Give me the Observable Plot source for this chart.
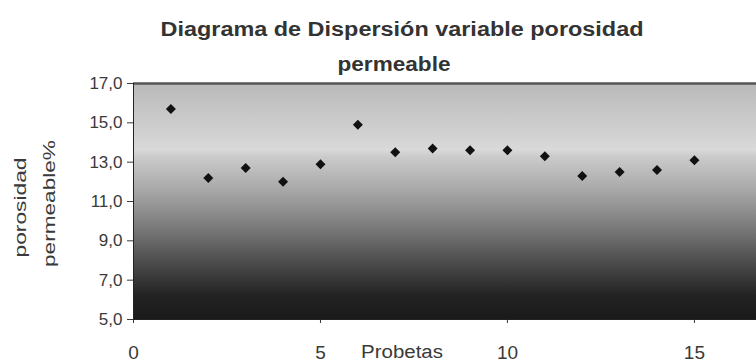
<!DOCTYPE html>
<html><head><meta charset="utf-8">
<script src="https://cdn.jsdelivr.net/npm/d3@7"></script>
<script src="https://cdn.jsdelivr.net/npm/@observablehq/plot@0.6"></script>
<style>body{margin:0;background:#fff;} svg{display:block}</style>
</head><body><div id="chart"></div>
<script>
const probetas = [1, 2, 3, 4, 5, 6, 7, 8, 9, 10, 11, 12, 13, 14, 15];
const porosidad = [15.7, 12.2, 12.7, 12.0, 12.9, 14.9, 13.5, 13.7, 13.6, 13.6, 13.3, 12.3, 12.5, 12.6, 13.1];
const yTicks = [5, 7, 9, 11, 13, 15, 17];
const xTicks = [0, 5, 10, 15];
const titleLine1 = "Diagrama de Dispersión variable porosidad";
const titleLine2 = "permeable";
const yLabelLine1 = "porosidad";
const yLabelLine2 = "permeable%";
const xLabel = "Probetas";

const data = probetas.map((p, i) => ({p, v: porosidad[i]}));
const fmt = d => d.toFixed(1).replace(".", ",");

// frame: left 133, right 756, top 83, bottom 319 ; frame center x = 444.5
const chart = Plot.plot({
  width: 756, height: 364,
  marginLeft: 133, marginRight: 0, marginTop: 83, marginBottom: 45,
  style: {fontFamily: "'Liberation Sans', Arial, sans-serif", background: "#fff", color: "#333"},
  x: {domain: [0, 16.66], axis: null},
  y: {domain: [5, 17], axis: null},
  marks: [
    Plot.frame({fill: "url(#bg)", stroke: "none"}),
    Plot.axisY({ticks: yTicks, tickFormat: fmt, tickSize: 6, tickPadding: 5, fontSize: 17, label: null, color: "#3a3a3a"}),
    Plot.axisX({ticks: xTicks, tickSize: 4, tickPadding: 22, fontSize: 19, label: null, color: "#3a3a3a"}),
    Plot.ruleY([17], {stroke: "#555", strokeWidth: 2.5}),
    Plot.ruleX([0], {stroke: "#222"}),
    Plot.ruleY([5], {stroke: "#222"}),
    Plot.dot(data, {x: "p", y: "v", symbol: "diamond2", r: 4.5, fill: "#111", stroke: "none"}),
    Plot.text([titleLine1], {text: d => d, frameAnchor: "top", textAnchor: "middle", dx: -43, dy: -62, fontSize: 20, fontWeight: "bold", fill: "#333"}),
    Plot.text([titleLine2], {text: d => d, frameAnchor: "top", textAnchor: "middle", dx: -51, dy: -27, fontSize: 20, fontWeight: "bold", fill: "#333"}),
    Plot.text([yLabelLine1], {text: d => d, frameAnchor: "left", textAnchor: "middle", rotate: -90, dx: -113, dy: 6, fontSize: 17, fill: "#3a3a3a"}),
    Plot.text([yLabelLine2], {text: d => d, frameAnchor: "left", textAnchor: "middle", rotate: -90, dx: -84, dy: 2, fontSize: 17, fill: "#3a3a3a"}),
    Plot.text([xLabel], {text: d => d, frameAnchor: "bottom", textAnchor: "middle", dx: -43, dy: 38, fontSize: 18, fill: "#3a3a3a"})
  ]
});

const svg = d3.select(chart);
const grad = svg.insert("defs", ":first-child")
  .append("linearGradient").attr("id", "bg")
  .attr("x1", 0).attr("y1", 0).attr("x2", 0).attr("y2", 1);
[[0, "#b9b9b9"], [0.28, "#d9d9d9"], [0.31, "#cbcbcb"], [0.45, "#a8a8a8"], [0.61, "#7a7a7a"], [0.75, "#4e4e4e"], [0.9, "#222"], [1, "#1a1a1a"]]
  .forEach(([o, c]) => grad.append("stop").attr("offset", o).attr("stop-color", c));

// the reference lettering is slightly stretched: fit the labels to their measured lengths
const lengths = new Map([[titleLine1, 483], [titleLine2, 113], [yLabelLine1, 100], [yLabelLine2, 127], [xLabel, 82]]);
svg.selectAll("text").each(function() {
  const L = lengths.get(this.textContent);
  if (L) d3.select(this).attr("textLength", L).attr("lengthAdjust", "spacingAndGlyphs");
});

document.getElementById("chart").appendChild(chart);
</script>
</body></html>
